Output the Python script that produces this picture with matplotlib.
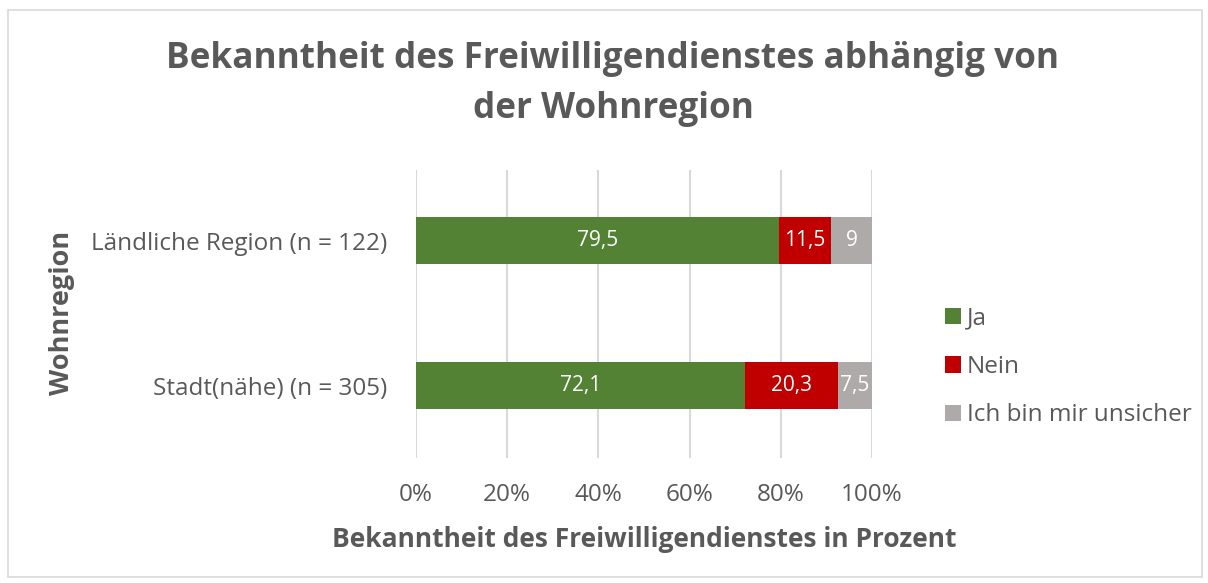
import matplotlib
matplotlib.use("Agg")
import matplotlib.pyplot as plt
from matplotlib.patches import Rectangle
import numpy as np

plt.rcParams['font.family'] = ['Open Sans', 'DejaVu Sans']

# ===== data =====
regions = ["Stadt(nähe) (n = 305)", "Ländliche Region (n = 122)"]
series = ["Ja", "Nein", "Ich bin mir unsicher"]
ja = [72.1, 79.5]
nein = [20.3, 11.5]
unsicher = [7.5, 9]
colors = ["#548235", "#C00000", "#AEAAAA"]
xticks = [0, 20, 40, 60, 80, 100]

TXT = "#595959"

fig = plt.figure(figsize=(12.08, 5.83), dpi=100)
fig.patches.append(Rectangle((8/1208, 6/583), 1194/1208, 567/583, transform=fig.transFigure,
                             fill=False, edgecolor="#D9D9D9", linewidth=1.2))

ax = fig.add_axes([416/1208, 1 - 458/583, 456/1208, 288/583])

vals = np.array([ja, nein, unsicher])
totals = vals.sum(axis=0)
pct = vals / totals * 100
y = np.arange(len(regions))
left = np.zeros(len(regions))
for i, name in enumerate(series):
    bars = ax.barh(y, pct[i], left=left, height=0.324, color=colors[i], label=name, zorder=3)
    for j, b in enumerate(bars):
        txt = f"{vals[i][j]:g}".replace(".", ",")
        ax.text(left[j] + pct[i][j] / 2, y[j], txt, ha="center", va="center",
                color="white", fontsize=15, zorder=4)
    left += pct[i]

ax.set_xlim(0, 100)
ax.set_ylim(-0.5, 1.49)
ax.set_xticks(xticks)
ax.set_xticklabels([f"{t}%" for t in xticks], fontsize=17.5, color=TXT)
ax.set_yticks(y)
ax.set_yticklabels(regions, fontsize=17.5, color=TXT)
ax.tick_params(length=0)
ax.tick_params(axis="x", pad=18)
ax.tick_params(axis="y", pad=21)
ax.grid(axis="x", color="#D9D9D9", linewidth=1.5, zorder=0)
for s in ax.spines.values():
    s.set_visible(False)

ax.set_xlabel("Bekanntheit des Freiwilligendienstes in Prozent", fontsize=19,
              fontweight="bold", color=TXT, labelpad=14)
fig.text(62/1208, 1 - 313/583, "Wohnregion", rotation=90, ha="center", va="center",
         fontsize=19.5, fontweight="bold", color=TXT)

fig.text(613/1208, 1 - 84/583, "Bekanntheit des Freiwilligendienstes abhängig von\nder Wohnregion",
         ha="center", va="center", fontsize=25.3, fontweight="bold", color=TXT, linespacing=1.5)

ax.legend(loc="center left", bbox_to_anchor=(945/1208, 1 - 367/583), bbox_transform=fig.transFigure,
          frameon=False, fontsize=17.5, labelcolor=TXT, handlelength=0.66, handleheight=0.66,
          handletextpad=0.25, labelspacing=1.0, borderpad=0, borderaxespad=0)

fig.savefig("out.png", dpi=100)
